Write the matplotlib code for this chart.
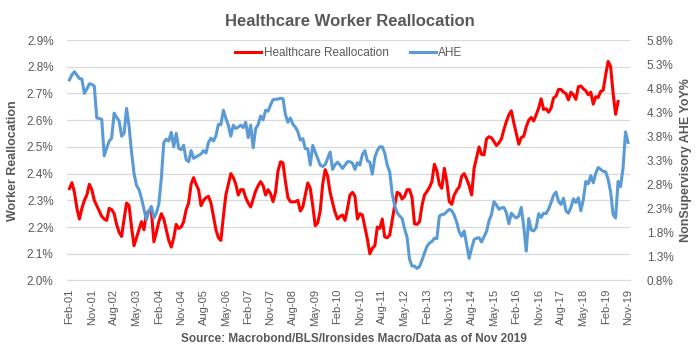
import numpy as np
import pandas as pd
import matplotlib
matplotlib.use('Agg')
import matplotlib.pyplot as plt
from matplotlib.ticker import FuncFormatter

# monthly, Feb-01 .. Nov-19
months = pd.date_range('2001-02-01', '2019-11-01', freq='MS')

# Healthcare worker reallocation (%), left axis, ends Jul-19
realloc = [
    2.344, 2.366, 2.33, 2.27, 2.23, 2.27, 2.30, 2.32, 2.36, 2.34,
    2.30, 2.28, 2.26, 2.24, 2.23, 2.225, 2.27, 2.265, 2.25, 2.21,
    2.18, 2.165, 2.23, 2.29, 2.28, 2.20, 2.13, 2.16, 2.19, 2.22,
    2.19, 2.25, 2.26, 2.26, 2.145, 2.18, 2.22, 2.25, 2.23, 2.19,
    2.15, 2.125, 2.16, 2.21, 2.195, 2.20, 2.22, 2.265, 2.29, 2.36,
    2.385, 2.36, 2.34, 2.28, 2.30, 2.31, 2.315, 2.29, 2.24, 2.19,
    2.16, 2.15, 2.24, 2.32, 2.36, 2.40, 2.385, 2.36, 2.32, 2.34,
    2.34, 2.31, 2.29, 2.275, 2.305, 2.335, 2.355, 2.37, 2.355, 2.32,
    2.34, 2.325, 2.295, 2.33, 2.41, 2.444, 2.44, 2.37, 2.31, 2.295,
    2.294, 2.295, 2.30, 2.26, 2.275, 2.32, 2.365, 2.345, 2.28, 2.205,
    2.215, 2.26, 2.36, 2.415, 2.39, 2.33, 2.29, 2.255, 2.23, 2.24,
    2.245, 2.225, 2.27, 2.32, 2.33, 2.315, 2.23, 2.25, 2.245, 2.20,
    2.155, 2.10, 2.12, 2.13, 2.20, 2.195, 2.23, 2.163, 2.16, 2.17,
    2.225, 2.28, 2.33, 2.325, 2.305, 2.315, 2.34, 2.34, 2.31, 2.212,
    2.21, 2.22, 2.28, 2.32, 2.333, 2.348, 2.37, 2.435, 2.41, 2.36,
    2.345, 2.42, 2.37, 2.295, 2.285, 2.32, 2.338, 2.35, 2.39, 2.40,
    2.38, 2.355, 2.32, 2.42, 2.46, 2.50, 2.472, 2.47, 2.53, 2.538,
    2.534, 2.52, 2.505, 2.515, 2.53, 2.565, 2.595, 2.62, 2.635, 2.59,
    2.55, 2.51, 2.535, 2.54, 2.575, 2.60, 2.61, 2.597, 2.62, 2.645,
    2.68, 2.64, 2.643, 2.63, 2.645, 2.683, 2.69, 2.715, 2.715, 2.705,
    2.70, 2.676, 2.705, 2.695, 2.678, 2.725, 2.728, 2.718, 2.71, 2.695,
    2.705, 2.66, 2.688, 2.685, 2.708, 2.712, 2.77, 2.82, 2.80, 2.70,
    2.622, 2.67,
]

# Nonsupervisory AHE YoY (%), right axis
ahe = [
    4.97, 5.08, 5.14, 5.07, 5.00, 4.99, 4.69, 4.78, 4.89, 4.88,
    4.84, 4.18, 4.17, 4.15, 3.39, 3.56, 3.70, 3.76, 4.28, 4.19,
    4.12, 3.80, 3.86, 4.38, 4.01, 3.47, 3.03, 2.78, 2.69, 2.51,
    2.28, 2.06, 2.25, 2.34, 2.10, 2.20, 2.39, 2.92, 3.67, 3.74,
    3.70, 3.88, 3.58, 3.86, 3.55, 3.52, 3.61, 3.31, 3.27, 3.50,
    3.34, 3.37, 3.40, 3.43, 3.50, 3.45, 3.67, 3.76, 3.70, 3.81,
    4.05, 4.04, 4.34, 4.17, 4.03, 3.80, 4.03, 3.96, 3.99, 4.03,
    3.98, 4.09, 3.77, 4.03, 3.56, 3.96, 4.04, 4.22, 4.14, 4.34,
    4.32, 4.45, 4.56, 4.57, 4.57, 4.59, 4.58, 4.25, 4.09, 4.18,
    4.05, 3.99, 3.89, 3.72, 3.75, 3.54, 3.54, 3.20, 3.61, 3.47,
    3.34, 3.20, 3.17, 3.21, 3.34, 3.47, 3.11, 3.21, 3.26, 3.20,
    3.13, 3.20, 3.27, 3.27, 3.24, 3.11, 3.25, 3.20, 3.42, 3.50,
    3.29, 3.26, 3.01, 3.36, 3.50, 3.58, 3.58, 3.45, 3.20, 3.06,
    2.61, 2.35, 2.21, 2.14, 2.09, 1.87, 1.70, 1.24, 1.10, 1.10,
    1.05, 1.09, 1.22, 1.37, 1.51, 1.58, 1.61, 1.68, 1.67, 2.14,
    2.17, 2.18, 2.23, 2.28, 2.25, 2.16, 2.01, 1.81, 1.72, 1.83,
    1.55, 1.26, 1.47, 1.65, 1.68, 1.69, 1.60, 1.71, 1.82, 2.04,
    2.17, 2.44, 2.37, 2.28, 2.31, 2.32, 2.21, 1.98, 2.20, 2.14,
    2.10, 2.14, 2.32, 1.92, 1.41, 2.09, 1.85, 1.83, 1.90, 2.19,
    2.11, 2.20, 2.19, 2.28, 2.42, 2.57, 2.64, 2.45, 2.38, 2.51,
    2.25, 2.20, 2.32, 2.50, 2.42, 2.52, 2.25, 2.48, 2.86, 2.81,
    2.98, 2.83, 3.03, 3.15, 3.11, 3.07, 3.06, 2.90, 2.64, 2.17,
    2.10, 2.86, 2.75, 3.14, 3.89, 3.67,
]

realloc_full = realloc + [np.nan] * (len(months) - len(realloc))
x = np.arange(len(months))
tick_pos = x[::9]
tick_labels = [d.strftime('%b-%y') for d in months[::9]]

grey = '#595959'
plt.rcParams['font.family'] = ['Liberation Sans', 'DejaVu Sans']

fig = plt.figure(figsize=(7, 3.51), dpi=100)
ax = fig.add_axes([0.0964, 0.2009, 0.8036, 0.685])
ax2 = ax.twinx()

l1, = ax.plot(x, realloc_full, color='#FF0000', lw=2.2, label='Healthcare Reallocation')
l2, = ax2.plot(x, ahe, color='#5B9BD5', lw=2.2, label='AHE')

ax.set_xlim(-0.8, len(months) - 0.2)
ax.set_ylim(2.0, 2.9)
ax.set_yticks(np.arange(2.0, 2.91, 0.1))
ax.yaxis.set_major_formatter(FuncFormatter(lambda v, p: f'{v:.1f}%'))
ax2.set_ylim(0.8, 5.8)
ax2.set_yticks(np.arange(0.8, 5.81, 0.5))
ax2.yaxis.set_major_formatter(FuncFormatter(lambda v, p: f'{v:.1f}%'))

ax.set_xticks(tick_pos)
ax.set_xticklabels(tick_labels, rotation=90)

ax.grid(axis='y', color='#D9D9D9', lw=0.9)
ax.set_axisbelow(True)
for a in (ax, ax2):
    for s in a.spines.values():
        s.set_visible(False)
    a.tick_params(length=0, colors=grey, labelsize=8.5)
ax.spines['bottom'].set_visible(True)
ax.spines['bottom'].set_color('#D9D9D9')
ax.tick_params(axis='y', pad=10)
ax2.tick_params(axis='y', pad=12)
ax.tick_params(axis='x', pad=6, labelsize=8)

ax.set_ylabel('Worker Reallocation', color=grey, fontsize=9, fontweight='bold')
ax.yaxis.set_label_coords(-0.086, 0.5)
ax2.set_ylabel('NonSupervisory AHE YoY%', color=grey, fontsize=9, fontweight='bold')
ax2.yaxis.set_label_coords(1.088, 0.5)

fig.text(0.5, 1 - 21 / 351, 'Healthcare Worker Reallocation', ha='center', va='center',
         color=grey, fontsize=12, fontweight='bold')
fig.text(0.505, 1 - 339 / 351, 'Source: Macrobond/BLS/Ironsides Macro/Data as of Nov 2019',
         ha='center', va='center', color=grey, fontsize=8.5, fontweight='bold')

leg = ax.legend([l1, l2], ['Healthcare Reallocation', 'AHE'], loc='center',
                bbox_to_anchor=(0.5, 0.945), ncol=2, frameon=False, fontsize=8.5,
                handlelength=2.2, columnspacing=1.8, handletextpad=0.2)
for t in leg.get_texts():
    t.set_color(grey)

fig.savefig('out.png', dpi=100)
